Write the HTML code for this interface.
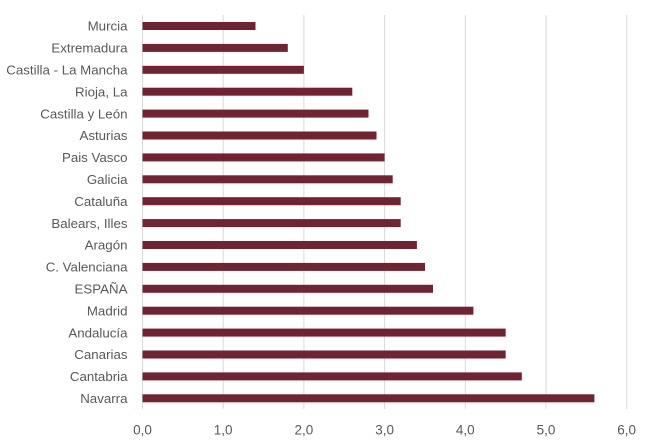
<!DOCTYPE html>
<html>
<head>
<meta charset="utf-8">
<style>
html,body{margin:0;padding:0;background:#fff;}
svg{display:block;}
text{font-family:"Liberation Sans",sans-serif;fill:#595959;}
</style>
</head>
<body>
<svg width="651" height="441" viewBox="0 0 651 441" xmlns="http://www.w3.org/2000/svg">
<rect width="651" height="441" fill="#fff"/>
<g stroke="#d9d9d9" stroke-width="1">
<line x1="142.5" y1="15" x2="142.5" y2="409"/>
<line x1="223.2" y1="15" x2="223.2" y2="409"/>
<line x1="303.9" y1="15" x2="303.9" y2="409"/>
<line x1="384.6" y1="15" x2="384.6" y2="409"/>
<line x1="465.3" y1="15" x2="465.3" y2="409"/>
<line x1="546" y1="15" x2="546" y2="409"/>
<line x1="626.7" y1="15" x2="626.7" y2="409"/>
</g>
<g fill="#722332">
<rect x="142.5" y="22" width="113" height="8"/>
<rect x="142.5" y="43.9" width="145.3" height="8"/>
<rect x="142.5" y="65.8" width="161.4" height="8"/>
<rect x="142.5" y="87.7" width="209.8" height="8"/>
<rect x="142.5" y="109.6" width="226" height="8"/>
<rect x="142.5" y="131.5" width="234" height="8"/>
<rect x="142.5" y="153.4" width="242.1" height="8"/>
<rect x="142.5" y="175.3" width="250.2" height="8"/>
<rect x="142.5" y="197.2" width="258.2" height="8"/>
<rect x="142.5" y="219.1" width="258.2" height="8"/>
<rect x="142.5" y="241" width="274.4" height="8"/>
<rect x="142.5" y="262.9" width="282.5" height="8"/>
<rect x="142.5" y="284.8" width="290.5" height="8"/>
<rect x="142.5" y="306.7" width="330.9" height="8"/>
<rect x="142.5" y="328.6" width="363.2" height="8"/>
<rect x="142.5" y="350.5" width="363.2" height="8"/>
<rect x="142.5" y="372.4" width="379.3" height="8"/>
<rect x="142.5" y="394.3" width="451.9" height="8"/>
</g>
<g font-size="13.3" text-anchor="end">
<text x="127.5" y="30.7">Murcia</text>
<text x="127.5" y="52.6">Extremadura</text>
<text x="127.5" y="74.5">Castilla - La Mancha</text>
<text x="127.5" y="96.4">Rioja, La</text>
<text x="127.5" y="118.3">Castilla y León</text>
<text x="127.5" y="140.2">Asturias</text>
<text x="127.5" y="162.1">Pais Vasco</text>
<text x="127.5" y="184">Galicia</text>
<text x="127.5" y="205.9">Cataluña</text>
<text x="127.5" y="227.8">Balears, Illes</text>
<text x="127.5" y="249.7">Aragón</text>
<text x="127.5" y="271.6">C. Valenciana</text>
<text x="127.5" y="293.5">ESPAÑA</text>
<text x="127.5" y="315.4">Madrid</text>
<text x="127.5" y="337.3">Andalucía</text>
<text x="127.5" y="359.2">Canarias</text>
<text x="127.5" y="381.1">Cantabria</text>
<text x="127.5" y="403">Navarra</text>
</g>
<g font-size="13.5" text-anchor="middle">
<text x="142.5" y="434.5">0,0</text>
<text x="223.2" y="434.5">1,0</text>
<text x="303.9" y="434.5">2,0</text>
<text x="384.6" y="434.5">3,0</text>
<text x="465.3" y="434.5">4,0</text>
<text x="546" y="434.5">5,0</text>
<text x="626.7" y="434.5">6,0</text>
</g>
</svg>
</body>
</html>
